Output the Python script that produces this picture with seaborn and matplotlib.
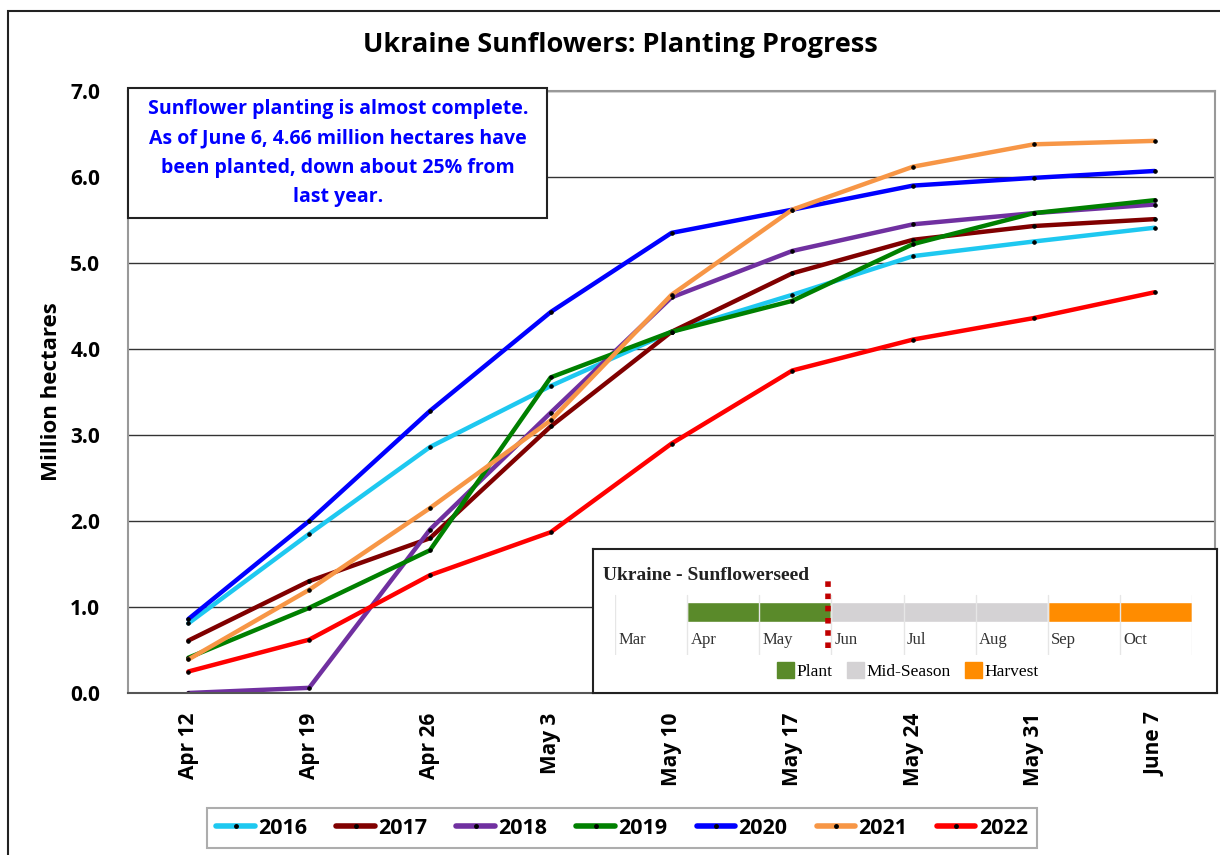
import matplotlib
matplotlib.use("Agg")
import matplotlib.pyplot as plt
import matplotlib.patches as mpatches
from matplotlib.lines import Line2D
import pandas as pd
import seaborn as sns

# weekly planting progress, million hectares
weeks = ["Apr 12", "Apr 19", "Apr 26", "May 3", "May 10", "May 17", "May 24", "May 31", "June 7"]
y2016 = [0.81, 1.85, 2.86, 3.57, 4.20, 4.63, 5.08, 5.25, 5.41]
y2017 = [0.61, 1.30, 1.80, 3.10, 4.20, 4.88, 5.27, 5.43, 5.51]
y2018 = [0.00, 0.06, 1.90, 3.26, 4.60, 5.14, 5.45, 5.58, 5.68]
y2019 = [0.41, 0.99, 1.66, 3.67, 4.20, 4.56, 5.22, 5.58, 5.73]
y2020 = [0.86, 2.00, 3.28, 4.43, 5.35, 5.62, 5.90, 5.99, 6.07]
y2021 = [0.39, 1.20, 2.15, 3.17, 4.63, 5.62, 6.12, 6.38, 6.42]
y2022 = [0.25, 0.62, 1.37, 1.87, 2.90, 3.75, 4.11, 4.36, 4.66]
years = ["2016", "2017", "2018", "2019", "2020", "2021", "2022"]
colors = ["#1EC8F0", "#800000", "#7030A0", "#008000", "#0000FF", "#F79646", "#FF0000"]

# crop calendar inset (months from Mar = 0)
months = ["Mar", "Apr", "May", "Jun", "Jul", "Aug", "Sep", "Oct"]
phases = ["Plant", "Mid-Season", "Harvest"]
phase_start = [1, 3, 6]
phase_end = [3, 6, 8]
phase_colors = ["#5A8A2A", "#D4D2D4", "#FF8C00"]
today_pos = 2.96

series = [y2016, y2017, y2018, y2019, y2020, y2021, y2022]
rows = []
for yr, vals in zip(years, series):
    for i, v in enumerate(vals):
        rows.append({"week": i, "value": v, "year": yr})
df = pd.DataFrame(rows)

sns.set_theme(style="white")
plt.rcParams["font.family"] = ["Open Sans", "DejaVu Sans"]
plt.rcParams.update({"text.color": "black", "axes.labelcolor": "black",
                     "xtick.color": "black", "ytick.color": "black"})

W, H = 1220, 855
fig = plt.figure(figsize=(W / 100, H / 100), dpi=100)


def rect(l, t, r, b):
    return [l / W, 1 - b / H, (r - l) / W, (b - t) / H]


# outer chart border
fig.patches.append(mpatches.Rectangle((8 / W, -0.05), 1.1, 1 - 11 / H + 0.05,
                                      transform=fig.transFigure, fill=False,
                                      edgecolor="#222222", linewidth=1.5))

ax = fig.add_axes(rect(128, 91, 1215, 693))
sns.lineplot(data=df, x="week", y="value", hue="year", palette=dict(zip(years, colors)),
             linewidth=3.2, marker="o", markersize=2.5, markeredgecolor="black",
             markerfacecolor="black", legend=False, ax=ax)
ax.set_xlim(-0.5, len(weeks) - 0.5)
ax.set_ylim(0, 7)
ax.set_xticks(range(len(weeks)))
ax.set_xticklabels(weeks, rotation=90, fontsize=15, fontweight="bold")
ax.set_yticks(range(8))
ax.set_yticklabels([f"{v:.1f}" for v in range(8)], fontsize=15, fontweight="bold")
ax.tick_params(axis="y", pad=20, length=0)
ax.tick_params(axis="x", pad=14, length=0)
ax.set_xlabel("")
ax.set_ylabel("Million hectares", fontsize=16, fontweight="bold", labelpad=6)
ax.yaxis.grid(True, color="#333333", linewidth=1)
ax.set_axisbelow(True)
for s in ax.spines.values():
    s.set_color("#999999")
    s.set_linewidth(1.5)
ax.spines["bottom"].set_color("#555555")

fig.text(620 / W, 1 - 45 / H, "Ukraine Sunflowers: Planting Progress", ha="center", va="center",
         fontsize=19.5, fontweight="bold")

# note box
fig.patches.append(mpatches.Rectangle((128 / W, 1 - 218 / H), (547 - 128) / W, (218 - 88) / H,
                                      transform=fig.transFigure, facecolor="white",
                                      edgecolor="#222222", linewidth=1.5, zorder=5))
fig.text(338 / W, 1 - 153 / H,
         "Sunflower planting is almost complete.\nAs of June 6, 4.66 million hectares have\nbeen planted, down about 25% from\nlast year.",
         ha="center", va="center", color="#0000FF", fontsize=14, fontweight="bold",
         linespacing=1.62, zorder=6)

handles = [Line2D([0], [0], color=c, linewidth=4, marker="o", markersize=2.5,
                  markerfacecolor="black", markeredgecolor="black") for c in colors]
leg = fig.legend(handles, years, loc="center", bbox_to_anchor=(622 / W, 1 - 828 / H), ncol=7,
                 frameon=True, fancybox=False, edgecolor="#999999",
                 prop={"weight": "bold", "size": 15.5}, handlelength=1.8, handletextpad=0.15,
                 columnspacing=1.35, borderpad=0.45)
leg.get_frame().set_linewidth(1.5)

# crop calendar inset
box = fig.add_axes(rect(593, 549, 1217, 693))
box.set_xticks([])
box.set_yticks([])
box.set_facecolor("white")
for s in box.spines.values():
    s.set_color("#222222")
    s.set_linewidth(1.5)
box.text(10 / 624, 1 - 26 / 144, "Ukraine - Sunflowerseed", transform=box.transAxes,
         ha="left", va="center", fontsize=14, fontweight="bold", family="Liberation Serif",
         color="#222222")

gantt = fig.add_axes(rect(615, 575, 1192, 655))
gantt.set_xlim(0, len(months))
gantt.set_ylim(0, 1)
gantt.axis("off")
for i in range(len(months) + 1):
    gantt.axvline(i, ymin=0, ymax=0.75, color="#E6E6E6", linewidth=1)
for p, s0, s1, c in zip(phases, phase_start, phase_end, phase_colors):
    gantt.barh(0.54, s1 - s0, left=s0, height=0.25, color=c, edgecolor="white", linewidth=1)
for i, m in enumerate(months):
    gantt.text(i + 0.05, 0.19, m, ha="left", va="center", fontsize=12,
               family="Liberation Serif", color="#333333")
gantt.axvline(today_pos, ymin=0.09, ymax=0.94, color="#C00000", linewidth=4,
              linestyle=(0, (1, 1.2)))

phandles = [mpatches.Patch(color=c) for c in phase_colors]
fig.legend(phandles, phases, loc="center", bbox_to_anchor=(908 / W, 1 - 671 / H), ncol=3,
           frameon=False, prop={"family": "Liberation Serif", "size": 12.5},
           handlelength=1.0, handleheight=1.0, handletextpad=0.15, columnspacing=0.8)

fig.savefig("out.png", dpi=100)
